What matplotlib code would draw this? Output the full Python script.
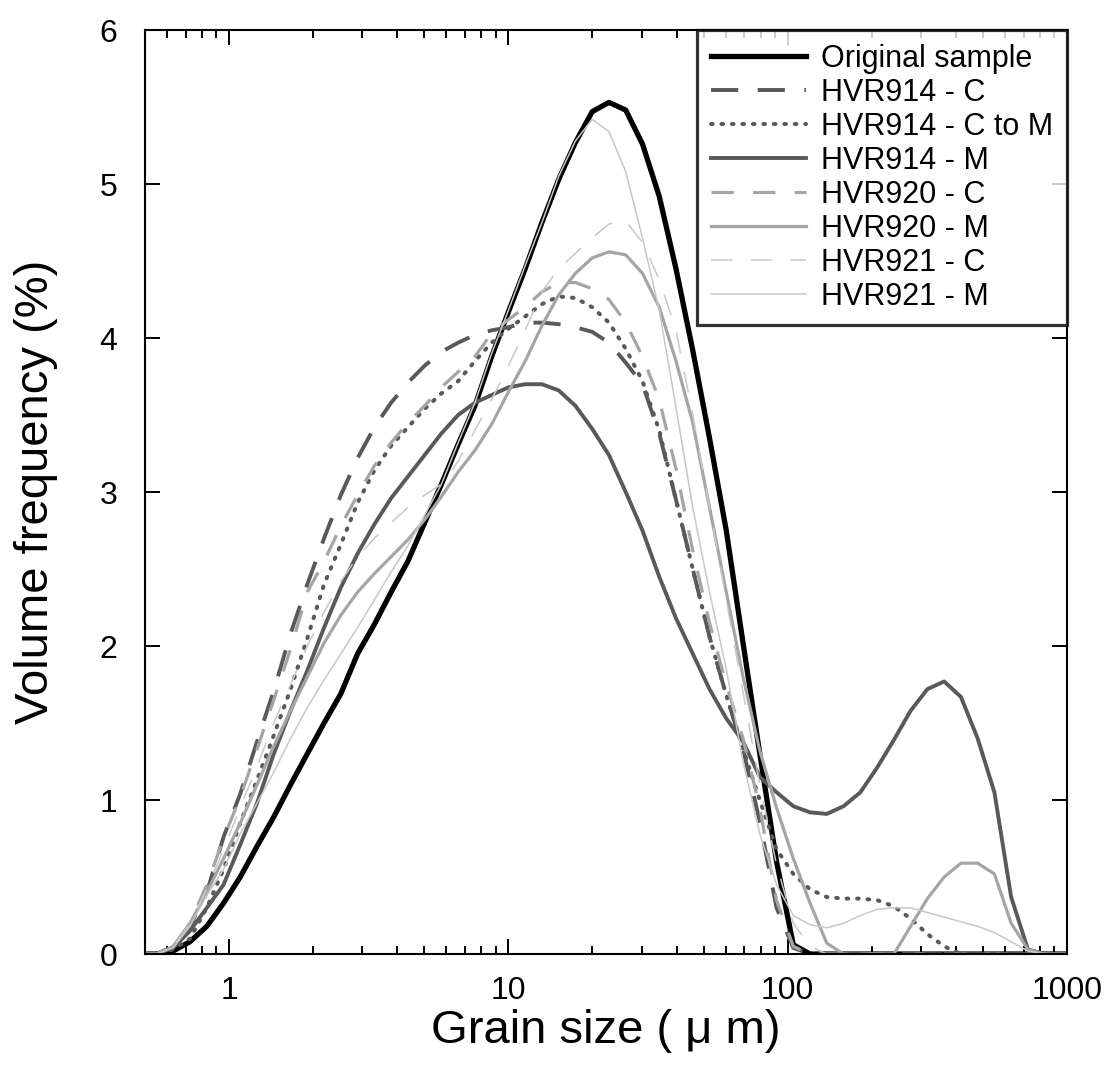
import matplotlib
matplotlib.use('Agg')
import matplotlib.pyplot as plt
from matplotlib.ticker import FixedLocator, LogLocator, NullFormatter

plt.rcParams['font.family'] = ['Liberation Sans', 'DejaVu Sans']
plt.rcParams['xtick.labelsize'] = 23
plt.rcParams['ytick.labelsize'] = 23

# Размер зерна (мкм), сетка лазерного анализатора
size_um = [0.479, 0.550, 0.631, 0.724, 0.832, 0.955, 1.096, 1.259, 1.445, 1.660,
           1.905, 2.188, 2.512, 2.884, 3.311, 3.802, 4.365, 5.012, 5.754, 6.607,
           7.586, 8.710, 10.0, 11.482, 13.183, 15.136, 17.378, 19.953, 22.909, 26.303,
           30.200, 34.674, 39.811, 45.709, 52.481, 60.256, 69.183, 79.433, 91.201, 104.713,
           120.226, 138.038, 158.489, 181.970, 208.930, 239.883, 275.423, 316.228, 363.078, 416.869,
           478.630, 549.541, 630.957, 724.436, 831.764, 954.993, 1096.478]

original = [0, 0, 0.02, 0.08, 0.18, 0.33, 0.50, 0.70, 0.89, 1.10,
            1.30, 1.50, 1.69, 1.95, 2.14, 2.35, 2.55, 2.80, 3.05, 3.31,
            3.56, 3.88, 4.17, 4.45, 4.75, 5.03, 5.27, 5.47, 5.53, 5.48,
            5.26, 4.92, 4.45, 3.92, 3.35, 2.75, 2.02, 1.30, 0.60, 0.06,
            0, 0, 0, 0, 0, 0, 0, 0, 0, 0,
            0, 0, 0, 0, 0, 0, 0]

hvr914_c = [0, 0, 0.05, 0.18, 0.40, 0.76, 1.04, 1.38, 1.71, 2.08,
            2.40, 2.70, 2.98, 3.22, 3.42, 3.58, 3.71, 3.82, 3.91, 3.97,
            4.02, 4.05, 4.07, 4.10, 4.10, 4.09, 4.07, 4.04, 3.97, 3.84,
            3.70, 3.38, 2.95, 2.50, 2.06, 1.68, 1.33, 0.86, 0.30, 0.04,
            0, 0, 0, 0, 0, 0, 0, 0, 0, 0,
            0, 0, 0, 0, 0, 0, 0]

hvr914_cm = [0, 0, 0.03, 0.10, 0.30, 0.55, 0.85, 1.13, 1.42, 1.72,
             2.05, 2.40, 2.66, 2.93, 3.14, 3.30, 3.42, 3.54, 3.64, 3.72,
             3.85, 3.97, 4.06, 4.14, 4.22, 4.27, 4.26, 4.20, 4.10, 3.93,
             3.72, 3.40, 2.95, 2.50, 2.06, 1.68, 1.33, 1.00, 0.68, 0.52,
             0.42, 0.37, 0.36, 0.36, 0.35, 0.31, 0.23, 0.13, 0.05, 0,
             0, 0, 0, 0, 0, 0, 0]

hvr914_m = [0, 0, 0.04, 0.15, 0.30, 0.45, 0.71, 0.98, 1.30, 1.58,
            1.84, 2.12, 2.38, 2.60, 2.79, 2.96, 3.10, 3.24, 3.38, 3.50,
            3.58, 3.63, 3.68, 3.70, 3.70, 3.66, 3.56, 3.41, 3.24, 3.00,
            2.75, 2.45, 2.18, 1.95, 1.72, 1.53, 1.38, 1.15, 1.05, 0.96,
            0.92, 0.91, 0.96, 1.05, 1.21, 1.39, 1.58, 1.72, 1.77, 1.67,
            1.40, 1.05, 0.37, 0.03, 0, 0, 0]

hvr920_c = [0, 0, 0.05, 0.20, 0.45, 0.75, 1.02, 1.33, 1.65, 1.98,
            2.35, 2.55, 2.78, 2.98, 3.17, 3.32, 3.45, 3.56, 3.68, 3.78,
            3.88, 4.03, 4.12, 4.20, 4.30, 4.36, 4.36, 4.32, 4.25, 4.10,
            3.88, 3.60, 3.15, 2.62, 2.15, 1.75, 1.40, 0.95, 0.35, 0.05,
            0, 0, 0, 0, 0, 0, 0, 0, 0, 0,
            0, 0, 0, 0, 0, 0, 0]

hvr920_m = [0, 0, 0.05, 0.20, 0.40, 0.62, 0.85, 1.10, 1.35, 1.58,
            1.80, 2.02, 2.20, 2.35, 2.47, 2.58, 2.69, 2.82, 2.97, 3.13,
            3.27, 3.44, 3.65, 3.85, 4.08, 4.28, 4.42, 4.52, 4.56, 4.54,
            4.42, 4.20, 3.85, 3.45, 2.90, 2.35, 1.80, 1.32, 0.95, 0.62,
            0.33, 0.07, 0, 0, 0, 0, 0.18, 0.36, 0.50, 0.59,
            0.59, 0.52, 0.20, 0.03, 0, 0, 0]

hvr921_c = [0, 0, 0.05, 0.20, 0.42, 0.68, 0.95, 1.22, 1.50, 1.75,
            2.00, 2.22, 2.42, 2.58, 2.70, 2.80, 2.90, 2.98, 3.05, 3.20,
            3.40, 3.60, 3.82, 4.05, 4.30, 4.45, 4.55, 4.65, 4.74, 4.76,
            4.62, 4.38, 4.05, 3.50, 2.90, 2.30, 1.70, 1.10, 0.58, 0.20,
            0.05, 0, 0, 0, 0, 0, 0, 0, 0, 0,
            0, 0, 0, 0, 0, 0, 0]

hvr921_m = [0, 0, 0.04, 0.18, 0.38, 0.55, 0.78, 0.98, 1.18, 1.40,
            1.60, 1.78, 1.95, 2.12, 2.30, 2.48, 2.65, 2.85, 3.05, 3.32,
            3.58, 3.90, 4.18, 4.47, 4.75, 5.05, 5.28, 5.42, 5.34, 5.08,
            4.65, 4.18, 3.55, 2.90, 2.35, 1.85, 1.25, 0.78, 0.45, 0.25,
            0.19, 0.17, 0.20, 0.25, 0.29, 0.30, 0.30, 0.27, 0.24, 0.21,
            0.18, 0.14, 0.08, 0.02, 0, 0, 0]

dark = '#595959'
mid = '#a5a5a5'
light = '#c8c8c8'

fig = plt.figure(figsize=(11.13, 10.68), dpi=100)
ax = fig.add_axes([0.1303, 0.1067, 0.8284, 0.8652])

ax.plot(size_um, original, color='black', lw=3.8, label='Original sample')
ax.plot(size_um, hvr914_c, color=dark, lw=2.8, linestyle=(0, (7, 5)), label='HVR914 - C')
ax.plot(size_um, hvr914_cm, color=dark, lw=2.9, linestyle=(0, (0.4, 2.2)),
        dash_capstyle='round', label='HVR914 - C to M')
ax.plot(size_um, hvr914_m, color=dark, lw=2.8, label='HVR914 - M')
ax.plot(size_um, hvr920_c, color=mid, lw=2.3, linestyle=(0, (7, 6)), label='HVR920 - C')
ax.plot(size_um, hvr920_m, color=mid, lw=2.3, label='HVR920 - M')
ax.plot(size_um, hvr921_c, color=light, lw=1.1, linestyle=(0, (14, 12)), label='HVR921 - C')
ax.plot(size_um, hvr921_m, color=light, lw=1.1, label='HVR921 - M')

ax.set_xscale('log')
ax.set_xlim(0.5, 1000)
ax.set_ylim(0, 6)
ax.xaxis.set_major_locator(FixedLocator([1, 10, 100, 1000]))
ax.set_xticklabels(['1', '10', '100', '1000'], fontsize=23)
ax.xaxis.set_minor_locator(LogLocator(base=10, subs=range(2, 10)))
ax.xaxis.set_minor_formatter(NullFormatter())
ax.set_yticks(range(0, 7))
ax.set_yticklabels([str(v) for v in range(0, 7)], fontsize=23)

ax.tick_params(which='both', direction='in', top=True, right=True, width=1.4)
ax.tick_params(which='major', length=10.5)
ax.tick_params(which='minor', length=5.5)
ax.tick_params(axis='y', pad=20)
ax.tick_params(axis='x', pad=16)
for s in ax.spines.values():
    s.set_linewidth(1.5)

ax.set_xlabel('Grain size ( μ m)', fontsize=34, labelpad=2)
ax.set_ylabel('Volume frequency (%)', fontsize=34, labelpad=30)

leg = ax.legend(loc='upper right', fontsize=22, frameon=True, fancybox=False,
                borderaxespad=0, borderpad=0.45, labelspacing=0.13,
                handlelength=3.1, handletextpad=0.5)
leg.get_frame().set_edgecolor('black')
leg.get_frame().set_linewidth(2.3)

plt.savefig('out.png', dpi=100)
